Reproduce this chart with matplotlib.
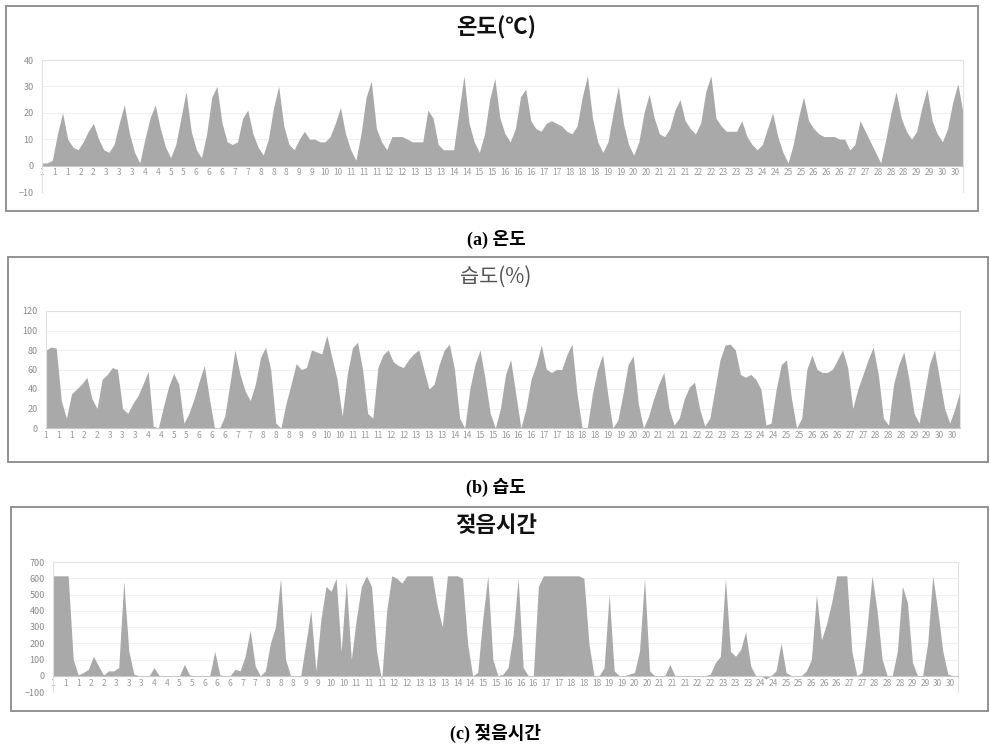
import matplotlib
matplotlib.use('Agg')
import matplotlib.pyplot as plt
from matplotlib.patches import Rectangle
import numpy as np

plt.rcParams['font.family'] = ['Noto Sans CJK KR', 'DejaVu Sans']

W, H = 990, 749

# values every 4 hours (0,4,8,12,16,20h), one row per day, 30 days
temp = [
    1, 1, 2, 12, 20, 10,
    7, 6, 9, 13, 16, 10,
    6, 5, 8, 16, 23, 12,
    5, 1, 10, 18, 23, 14,
    7, 3, 8, 18, 28, 13,
    6, 3, 12, 26, 30, 16,
    9, 8, 9, 18, 21, 12,
    7, 4, 10, 22, 30, 15,
    8, 6, 10, 13, 10, 10,
    9, 9, 11, 16, 22, 12,
    6, 2, 12, 26, 32, 14,
    9, 6, 11, 11, 11, 10,
    9, 9, 9, 21, 18, 8,
    6, 6, 6, 20, 34, 16,
    9, 5, 12, 25, 33, 18,
    12, 9, 14, 26, 29, 17,
    14, 13, 16, 17, 16, 15,
    13, 12, 15, 26, 34, 18,
    9, 5, 9, 20, 30, 16,
    8, 4, 9, 20, 27, 18,
    12, 11, 14, 21, 25, 17,
    14, 12, 16, 28, 34, 18,
    15, 13, 13, 13, 17, 11,
    8, 6, 8, 14, 20, 11,
    5, 1, 8, 18, 26, 17,
    14, 12, 11, 11, 11, 10,
    10, 6, 8, 17, 13, 9,
    5, 1, 10, 20, 28, 18,
    13, 10, 13, 22, 29, 17,
    12, 9, 14, 24, 31, 20,
]

humid = [
    80, 83, 82, 28, 10, 35,
    40, 45, 52, 30, 20, 50,
    55, 62, 60, 20, 15, 25,
    33, 45, 58, 2, 0, 22,
    42, 56, 45, 5, 15, 30,
    48, 64, 30, 0, 0, 12,
    45, 80, 55, 38, 28, 45,
    72, 83, 60, 5, 0, 25,
    45, 66, 60, 62, 80, 78,
    76, 95, 72, 50, 12, 55,
    82, 88, 60, 15, 10, 62,
    75, 80, 68, 64, 62, 70,
    76, 80, 60, 40, 45, 65,
    80, 86, 60, 10, 0, 40,
    65, 80, 50, 15, 0, 20,
    55, 70, 35, 0, 20, 50,
    65, 85, 60, 57, 60, 60,
    75, 86, 35, 0, 0, 35,
    60, 75, 35, 0, 8, 35,
    65, 74, 25, 0, 12, 30,
    45, 57, 20, 3, 10, 30,
    42, 47, 20, 2, 10, 40,
    70, 85, 86, 80, 55, 52,
    55, 50, 40, 3, 5, 40,
    65, 70, 30, 0, 10, 60,
    75, 60, 57, 57, 60, 70,
    80, 62, 20, 40, 55, 70,
    83, 55, 10, 3, 45, 65,
    78, 50, 15, 5, 35, 65,
    80, 50, 20, 5, 20, 38,
]

wet = [
    615, 615, 615, 615, 100, 5,
    20, 40, 120, 60, 5, 30,
    30, 50, 580, 150, 10, 0,
    0, 0, 50, 0, 0, 0,
    0, 0, 70, 5, 0, 0,
    0, 0, 150, 5, 0, 0,
    40, 30, 120, 280, 60, 0,
    30, 200, 300, 600, 100, 0,
    0, 0, 200, 400, 30, 350,
    550, 520, 600, 150, 580, 100,
    350, 550, 615, 550, 150, -30,
    400, 615, 600, 570, 615, 615,
    615, 615, 615, 615, 430, 300,
    615, 615, 615, 600, 200, 0,
    20, 350, 615, 100, 0, 10,
    50, 250, 600, 50, 0, 0,
    550, 615, 615, 615, 615, 615,
    615, 615, 615, 600, 200, 0,
    0, 50, 500, 30, 0, 0,
    10, 20, 150, 600, 30, 0,
    0, 0, 70, 0, 0, 0,
    0, 0, 0, 0, 10, 80,
    120, 600, 150, 120, 160, 270,
    60, 0, 0, -20, 0, 30,
    200, 20, 0, 0, 0, 30,
    100, 500, 220, 320, 450, 615,
    615, 615, 150, 0, 20, 300,
    615, 400, 100, 0, 0, 150,
    550, 450, 80, 0, 0, 200,
    615, 400, 150, 10, 0, 0,
]

# category labels (day number), one every 10 hours
tick_days = [1, 1, 1, 2, 2, 3, 3, 3, 4, 4, 5, 5, 6, 6, 6, 7, 7, 8, 8, 8,
             9, 9, 10, 10, 11, 11, 11, 12, 12, 13, 13, 13, 14, 14, 15, 15,
             16, 16, 16, 17, 17, 18, 18, 18, 19, 19, 20, 20, 21, 21, 21,
             22, 22, 23, 23, 23, 24, 24, 25, 25, 26, 26, 26, 27, 27, 28, 28,
             28, 29, 29, 30, 30]

hours = np.arange(0, 720, 4)
tick_pos = np.arange(0, 720, 10)

fig = plt.figure(figsize=(9.9, 7.49), dpi=100)


def fbox(x0, y0, x1, y1):
    return [x0 / W, 1 - y1 / H, (x1 - x0) / W, (y1 - y0) / H]


def panel(box, axbox, title, title_kw, title_y, caption, cap_y, vals, ylim, yticks):
    b = fbox(*box)
    fig.add_artist(Rectangle((b[0], b[1]), b[2], b[3], transform=fig.transFigure,
                             fill=False, ec='#8a8a8a', lw=1.3))
    fig.text(496 / W, 1 - title_y / H, title, ha='center', va='center', **title_kw)
    fig.text(496 / W, 1 - cap_y / H, caption, ha='center', va='center',
             fontsize=13, fontweight='bold',
             family=['Liberation Serif', 'Noto Sans CJK KR'])

    ax = fig.add_axes(fbox(*axbox))
    ax.fill_between(hours, vals, color='#a9a9a9', lw=0)
    ax.set_xlim(0, 716)
    ax.set_ylim(*ylim)
    ax.set_yticks(yticks)
    ax.grid(axis='y', color='#f0f0f0', lw=0.8)
    ax.set_axisbelow(True)
    ax.set_xticks(tick_pos)
    ax.set_xticklabels([str(d) for d in tick_days], rotation=90)
    ax.spines['bottom'].set_position(('data', 0))
    for s in ['top', 'right', 'left']:
        ax.spines[s].set_color('#e2e2e2')
    ax.spines['bottom'].set_color('#c8c8c8')
    ax.tick_params(axis='x', length=0, labelsize=6, labelcolor='#9a9a9a', pad=2)
    ax.tick_params(axis='y', length=0, labelsize=6.5, labelcolor='#8a8a8a', pad=6)
    return ax


panel((6, 6, 978, 211), (42, 60, 963, 192), '온도(℃)',
      dict(fontsize=16, fontweight='bold', color='#111111'), 28,
      '(a) 온도', 239, temp, (-10, 40), range(-10, 41, 10))

panel((8, 257, 988, 462), (46, 311, 960, 428), '습도(%)',
      dict(fontsize=15, color='#555555'), 277,
      '(b) 습도', 487, humid, (0, 120), range(0, 121, 20))

panel((11, 507, 988, 711), (53, 562, 958, 692), '젖음시간',
      dict(fontsize=16, fontweight='bold', color='#111111'), 526,
      '(c) 젖음시간', 733, wet, (-100, 700), range(-100, 701, 100))

fig.savefig('out.png', dpi=100)
